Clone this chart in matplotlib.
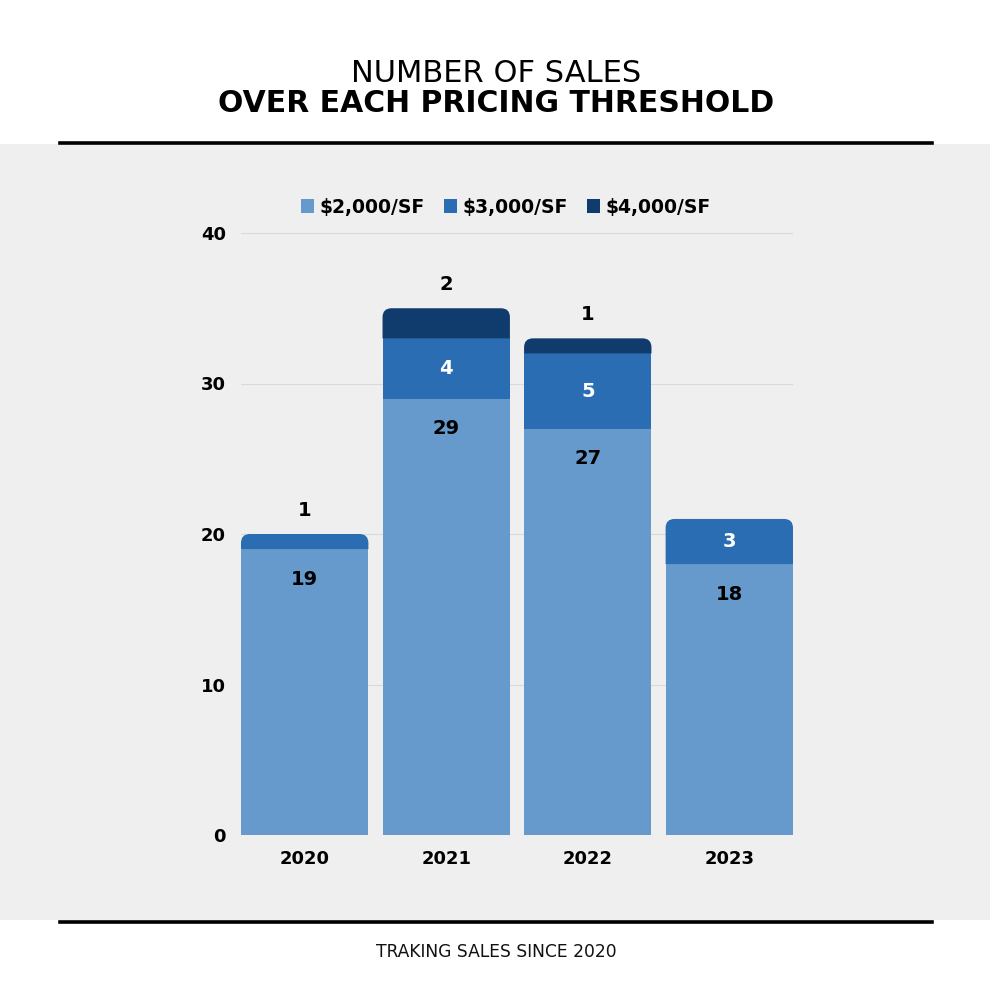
import numpy as np
import matplotlib.pyplot as plt
from matplotlib.patches import PathPatch, Rectangle
from matplotlib.path import Path
from matplotlib.lines import Line2D

plt.rcParams['font.family'] = ['DejaVu Sans']

years = ['2020', '2021', '2022', '2023']
series_names = ['$2,000/SF', '$3,000/SF', '$4,000/SF']
sales_2000 = [19, 29, 27, 18]
sales_3000 = [1, 4, 5, 3]
sales_4000 = [0, 2, 1, 0]
colors = ['#6699cc', '#2a6db2', '#0f3c6c']

fig = plt.figure(figsize=(9.92, 9.92), dpi=100)
fig.patch.set_facecolor('white')

# grey panel and the two black rules
fig.add_artist(Rectangle((0, 1 - 920 / 992), 990 / 992, (920 - 144) / 992,
                         transform=fig.transFigure, facecolor='#efefef',
                         edgecolor='none', zorder=0))
fig.add_artist(Line2D([60 / 992, 932 / 992], [1 - 142.5 / 992] * 2,
                      transform=fig.transFigure, color='black', lw=2.6))
fig.add_artist(Line2D([60 / 992, 932 / 992], [1 - 921.5 / 992] * 2,
                      transform=fig.transFigure, color='black', lw=2.6))

fig.text(0.5, 1 - 73 / 992, 'NUMBER OF SALES', ha='center', va='center',
         fontsize=22, color='black')
fig.text(0.5, 1 - 104 / 992, 'OVER EACH PRICING THRESHOLD', ha='center',
         va='center', fontsize=21.5, fontweight='bold', color='black')
fig.text(0.5, 1 - 952 / 992, 'TRAKING SALES SINCE 2020', ha='center',
         va='center', fontsize=12.3, color='#111111')

ax = fig.add_axes([241 / 992, 157 / 992, 552 / 992, 602 / 992])
ax.set_facecolor('none')
ax.set_xlim(-0.45, 3.45)
ax.set_ylim(0, 40)

x = np.arange(len(years))
width = 0.9
stack = np.array([sales_2000, sales_3000, sales_4000])
bottoms = np.vstack([np.zeros(len(years)), np.cumsum(stack, axis=0)[:-1]])
tops = bottoms + stack

# corner radius of about 9 px, in data units
rx = 9 * 3.9 / 552
ry = 9 * 40 / 602


def top_rounded(x0, y0, w, h):
    r_y = min(ry, h)
    verts = [(x0, y0), (x0, y0 + h - r_y), (x0, y0 + h), (x0 + rx, y0 + h),
             (x0 + w - rx, y0 + h), (x0 + w, y0 + h), (x0 + w, y0 + h - r_y),
             (x0 + w, y0), (x0, y0)]
    codes = [Path.MOVETO, Path.LINETO, Path.CURVE3, Path.CURVE3, Path.LINETO,
             Path.CURVE3, Path.CURVE3, Path.LINETO, Path.CLOSEPOLY]
    return Path(verts, codes)


for j in range(len(years)):
    top_i = max(i for i in range(3) if stack[i, j] > 0)
    for i in range(3):
        if stack[i, j] == 0:
            continue
        if i == top_i:
            ax.add_patch(PathPatch(top_rounded(x[j] - width / 2, bottoms[i, j],
                                               width, stack[i, j]),
                                   facecolor=colors[i], edgecolor='none', zorder=3))
        else:
            ax.bar(x[j], stack[i, j], width, bottom=bottoms[i, j],
                   color=colors[i], edgecolor='none', zorder=3)

    # value labels
    for i in range(3):
        v = stack[i, j]
        if v == 0:
            continue
        if i == 0:
            ax.annotate(str(v), (x[j], tops[i, j]), xytext=(0, -30),
                        textcoords='offset pixels', ha='center', va='center',
                        fontsize=14, fontweight='bold', color='black', zorder=5)
        elif v <= 2:
            ax.annotate(str(v), (x[j], tops[i, j]), xytext=(0, 24),
                        textcoords='offset pixels', ha='center', va='center',
                        fontsize=14, fontweight='bold', color='black', zorder=5)
        else:
            ax.text(x[j], bottoms[i, j] + v / 2, str(v), ha='center',
                    va='center', fontsize=14, fontweight='bold',
                    color='white', zorder=5)

ax.set_yticks([0, 10, 20, 30, 40])
ax.yaxis.grid(True, color='#d9d9d9', lw=0.8, zorder=1)
ax.set_axisbelow(True)
ax.set_xticks(x)
ax.set_xticklabels(years)
for s in ax.spines.values():
    s.set_visible(False)
ax.tick_params(length=0, labelsize=13)
ax.tick_params(axis='x', pad=11)
ax.tick_params(axis='y', pad=11)
for lab in ax.get_xticklabels() + ax.get_yticklabels():
    lab.set_fontweight('bold')

handles = [Rectangle((0, 0), 1, 1, facecolor=c, edgecolor='none') for c in colors]
ax.legend(handles, series_names, loc='center', bbox_to_anchor=(0.48, 1.043),
          ncol=3, frameon=False, handlelength=0.7, handleheight=0.7,
          handletextpad=0.3, columnspacing=1.0,
          prop={'weight': 'bold', 'size': 13.5})

fig.savefig('out.png', dpi=100, facecolor='white')
